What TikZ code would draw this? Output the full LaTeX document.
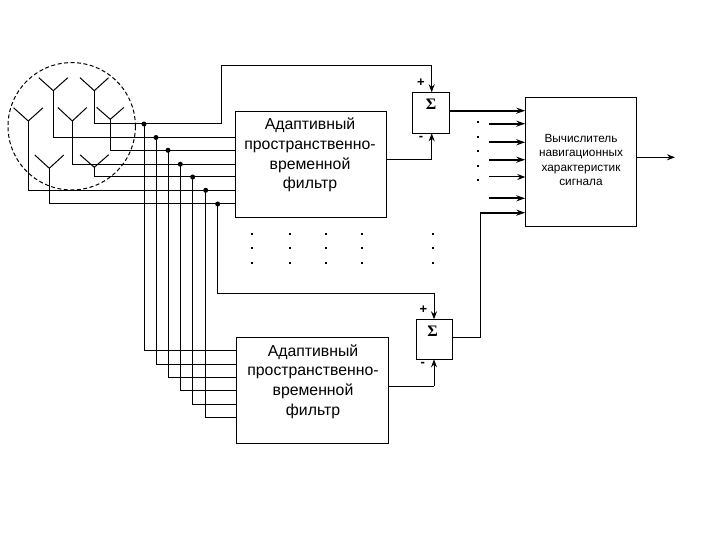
\documentclass[tikz,border=0pt]{standalone}
\usepackage{fontspec}
\setmainfont{Liberation Sans}
\newfontfamily\sigmafont{Liberation Serif}
\usetikzlibrary{arrows.meta}
\tikzset{
  wire/.style={line width=1pt},
  thickwire/.style={line width=1.8pt},
  arrowwire/.style={line width=1pt,-{Stealth[length=8pt,width=6pt]}},
  thickarrow/.style={line width=1.8pt,-{Stealth[length=9pt,width=6pt]}},
  boxnode/.style={draw,line width=1pt,inner sep=0pt,anchor=north west},
  junction/.style={circle,fill=black,inner sep=0pt,minimum size=5pt},
  dotmark/.style={fill=black,inner sep=0pt,minimum size=2pt},
  filterlabel/.style={align=center,font=\fontsize{15.8}{19.8}\selectfont},
  signmark/.style={font=\bfseries\fontsize{13}{13}\selectfont,inner sep=0pt},
  sigmamark/.style={font=\sigmafont\bfseries\fontsize{16}{16}\selectfont,inner sep=0pt},
}
\newcommand{\antennafork}[5]{%
  \coordinate (#1fork) at (#2,#3);
  \coordinate (#1l) at (#2-#5,#4);
  \coordinate (#1r) at (#2+#5,#4);
  \draw[wire] (#1l) -- (#1fork) -- (#1r);
}
\begin{document}
\begin{tikzpicture}[x=1pt,y=-1pt]
\useasboundingbox (0,0) rectangle (720,540);
% boxes
\node[boxnode,minimum width=151.5pt,minimum height=106pt] (f1) at (234.5,111.3) {};
\node[boxnode,minimum width=152pt,minimum height=106pt] (f2) at (236.3,337.3) {};
\node[boxnode,minimum width=37pt,minimum height=41pt] (s1) at (412.3,92.3) {};
\node[boxnode,minimum width=36pt,minimum height=40pt] (s2) at (415.7,319.3) {};
\node[boxnode,minimum width=110.5pt,minimum height=128.7pt] (calc) at (525.3,97.3) {};
% box texts
\node[filterlabel] (t1) at (310,155) {Адаптивный\\пространственно-\\временной\\фильтр};
\node[filterlabel] (t2) at (313,381.5) {Адаптивный\\пространственно-\\временной\\фильтр};
\node[align=center,font=\fontsize{11.8}{14.6}\selectfont] (t3) at (581,160) {Вычислитель\\навигационных\\характеристик\\сигнала};
\node[sigmamark] (sg1) at (431,104) {Σ};
\node[sigmamark] (sg2) at (432.7,331) {Σ};
\node[signmark] (p1) at (421,83) {+};
\node[signmark] (m1) at (421,138.5) {-};
\node[signmark] (p2) at (423.3,310) {+};
\node[signmark] (m2) at (422.7,364.5) {-};
% antennas
\draw[wire,dashed,dash pattern=on 4pt off 2.5pt] (71.7,126.3) circle [radius=63.7];
\antennafork{a}{94.3}{90.7}{77.7}{14.3}
\antennafork{b}{53.3}{90.7}{77.7}{14.5}
\antennafork{c}{110.3}{119.3}{107.3}{13.7}
\antennafork{d}{72.3}{121}{107.5}{14.5}
\antennafork{e}{94.3}{167.3}{154.8}{14.3}
\antennafork{g}{28.3}{121}{107.8}{14.7}
\antennafork{h}{49.3}{168.3}{155}{14.5}
% junctions
\node[junction] (j1) at (144,124) {};
\node[junction] (j2) at (156,137.5) {};
\node[junction] (j3) at (168,150.3) {};
\node[junction] (j4) at (180.3,164.2) {};
\node[junction] (j5) at (192.7,177) {};
\node[junction] (j6) at (205.7,190.3) {};
\node[junction] (j7) at (217.7,204) {};
% antenna to bus
\draw[wire] (afork) |- (j1.center);
\draw[wire] (bfork) |- (j2.center);
\draw[wire] (cfork) |- (j3.center);
\draw[wire] (dfork) |- (j4.center);
\draw[wire] (efork) |- (j5.center);
\draw[wire] (gfork) |- (j6.center);
\draw[wire] (hfork) |- (j7.center);
% bus to upper filter
\draw[wire] (j2.center) -- (j2.center -| f1.west);
\draw[wire] (j3.center) -- (j3.center -| f1.west);
\draw[wire] (j4.center) -- (j4.center -| f1.west);
\draw[wire] (j5.center) -- (j5.center -| f1.west);
\draw[wire] (j6.center) -- (j6.center -| f1.west);
\draw[wire] (j7.center) -- (j7.center -| f1.west);
% bus to lower filter
\coordinate (l1) at (236.3,350.3);
\coordinate (l2) at (236.3,364.3);
\coordinate (l3) at (236.3,377.3);
\coordinate (l4) at (236.3,390.3);
\coordinate (l5) at (236.3,404.7);
\coordinate (l6) at (236.3,417.3);
\draw[wire] (j1.center) |- (l1);
\draw[wire] (j2.center) |- (l2);
\draw[wire] (j3.center) |- (l3);
\draw[wire] (j4.center) |- (l4);
\draw[wire] (j5.center) |- (l5);
\draw[wire] (j6.center) |- (l6);
% to upper summer + input
\coordinate (s1in) at (431.7,92.3);
\coordinate (s1m) at (431.7,133.3);
\coordinate (up1) at (221,66);
\draw[wire] (j1.center) -- (up1 |- j1.center) -- (up1) -- (up1 -| s1in);
\draw[arrowwire] (up1 -| s1in) -- (s1in);
% filter 1 output
\coordinate (f1out) at (386,159.3);
\draw[wire] (f1out) -- (f1out -| s1m);
\draw[arrowwire] (f1out -| s1m) -- (s1m);
% lower summer
\coordinate (s2in) at (434,319.3);
\coordinate (s2m) at (434,359.3);
\coordinate (dn2) at (217.7,293.3);
\draw[wire] (j7.center) -- (dn2) -- (dn2 -| s2in);
\draw[arrowwire] (dn2 -| s2in) -- (s2in);
\coordinate (f2out) at (388.3,386.3);
\draw[wire] (f2out) -- (f2out -| s2m);
\draw[arrowwire] (f2out -| s2m) -- (s2m);
% summer outputs
\coordinate (s1out) at (449.3,110.7);
\draw[thickarrow] (s1out) -- (s1out -| calc.west);
\coordinate (s2out) at (451.7,337.3);
\coordinate (cin7) at (525.3,212.7);
\coordinate (s2up) at (480.3,212.7);
\draw[wire] (s2out) -- (s2up |- s2out) -- (s2up);
\draw[thickarrow] (s2up) -- (cin7);
% calculator inputs
\coordinate (c2) at (489.3,123.7);
\coordinate (c3) at (489.3,142.3);
\coordinate (c4) at (489.3,159.7);
\coordinate (c5) at (489.3,177);
\coordinate (c6) at (489.3,198.3);
\draw[thickarrow] (c2) -- (c2 -| calc.west);
\draw[thickarrow] (c3) -- (c3 -| calc.west);
\draw[thickarrow] (c4) -- (c4 -| calc.west);
\draw[arrowwire] (c5) -- (c5 -| calc.west);
\draw[thickarrow] (c6) -- (c6 -| calc.west);
% calculator output
\coordinate (cout) at (675,157.3);
\draw[arrowwire] (cout -| calc.east) -- (cout);
% dots
\foreach \y [count=\i] in {122.5,137.5,151.5,166.5,180.5} \node[dotmark] (da\i) at (478,\y) {};
\foreach \x [count=\j] in {252,290,326,362,433} \foreach \y [count=\i] in {234,248,263} \node[dotmark] (db\j\i) at (\x,\y) {};
\end{tikzpicture}
\end{document}
